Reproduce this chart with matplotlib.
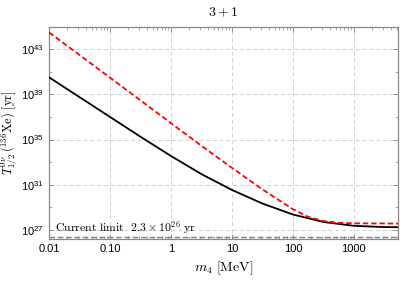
import numpy as np
import matplotlib
matplotlib.use("Agg")
import matplotlib.pyplot as plt
from matplotlib.ticker import FixedLocator, FixedFormatter, NullFormatter

plt.rcParams['mathtext.fontset'] = 'cm'
plt.rcParams['font.family'] = ['Liberation Sans', 'DejaVu Sans']

# data: m4 in MeV, log10 of half-life in yr
m_black = [0.01, 0.0316, 0.1, 0.316, 1, 3.16, 10, 31.6, 100, 316, 1000, 3162, 5300]
logT_black = [40.5, 38.75, 37.0, 35.25, 33.55, 31.95, 30.55, 29.35, 28.38, 27.72, 27.38, 27.27, 27.26]

m_red = [0.01, 0.1, 1, 3.16, 10, 31.6, 56.2, 100, 178, 316, 562, 1000, 5300]
logT_red = [44.47, 40.47, 36.45, 34.45, 32.5, 30.6, 29.72, 28.85, 28.17, 27.8, 27.65, 27.6, 27.58]

current_limit = 2.3e26

xticks = [0.01, 0.1, 1, 10, 100, 1000]
xticklabels = ['0.01', '0.10', '1', '10', '100', '1000']
yticks = [1e27, 1e31, 1e35, 1e39, 1e43]
yticklabels = [r'$\mathregular{10^{27}}$', r'$\mathregular{10^{31}}$', r'$\mathregular{10^{35}}$',
               r'$\mathregular{10^{39}}$', r'$\mathregular{10^{43}}$']

fig = plt.figure(figsize=(4.19, 2.83), dpi=100)
ax = fig.add_axes([0.117, 0.155, 0.833, 0.75])

ax.plot(m_black, 10**np.array(logT_black), color='black', lw=1.3, zorder=3)
ax.plot(m_red, 10**np.array(logT_red), color='red', lw=1.3, ls=(0, (3, 1.6)), zorder=4)
ax.axhline(current_limit, color='gray', lw=1.0, ls=(0, (4, 2)), zorder=2)

ax.set_xscale('log')
ax.set_yscale('log')
ax.set_xlim(0.01, 5300)
ax.set_ylim(1.6e26, 9e44)

ax.xaxis.set_major_locator(FixedLocator(xticks))
ax.xaxis.set_major_formatter(FixedFormatter(xticklabels))
minors = [k * 10.0**e for e in range(-2, 4) for k in range(2, 10)]
ax.xaxis.set_minor_locator(FixedLocator(minors))
ax.xaxis.set_minor_formatter(NullFormatter())
ax.yaxis.set_major_locator(FixedLocator(yticks))
ax.yaxis.set_major_formatter(FixedFormatter(yticklabels))
ax.yaxis.set_minor_locator(FixedLocator([1e29, 1e33, 1e37, 1e41]))
ax.yaxis.set_minor_formatter(NullFormatter())

ax.tick_params(which='both', direction='in', top=True, right=True, colors='#888888',
               labelcolor='black', labelsize=8)
ax.tick_params(which='major', length=3.5, width=0.6)
ax.tick_params(which='minor', length=2, width=0.5)
for s in ax.spines.values():
    s.set_color('#888888')
    s.set_linewidth(0.9)

ax.grid(True, which='major', color='#d0d0d0', ls=(0, (4, 3)), lw=0.7)

ax.set_xlabel(r'$m_4\ [\mathrm{MeV}]$', fontsize=10)
ax.set_ylabel(r'$T^{0\nu}_{1/2}\,(^{136}\mathrm{Xe})\ [\mathrm{yr}]$', fontsize=9)
ax.yaxis.set_label_coords(-0.083, 0.5)
ax.set_title(r'$3+1$', fontsize=10, pad=8)

ax.text(0.0125, 7e26, r'$\mathrm{Current\ limit}\ \ 2.3\times10^{26}\ \mathrm{yr}$',
        fontsize=8.5, color='black')

fig.savefig('out.png', dpi=100)
